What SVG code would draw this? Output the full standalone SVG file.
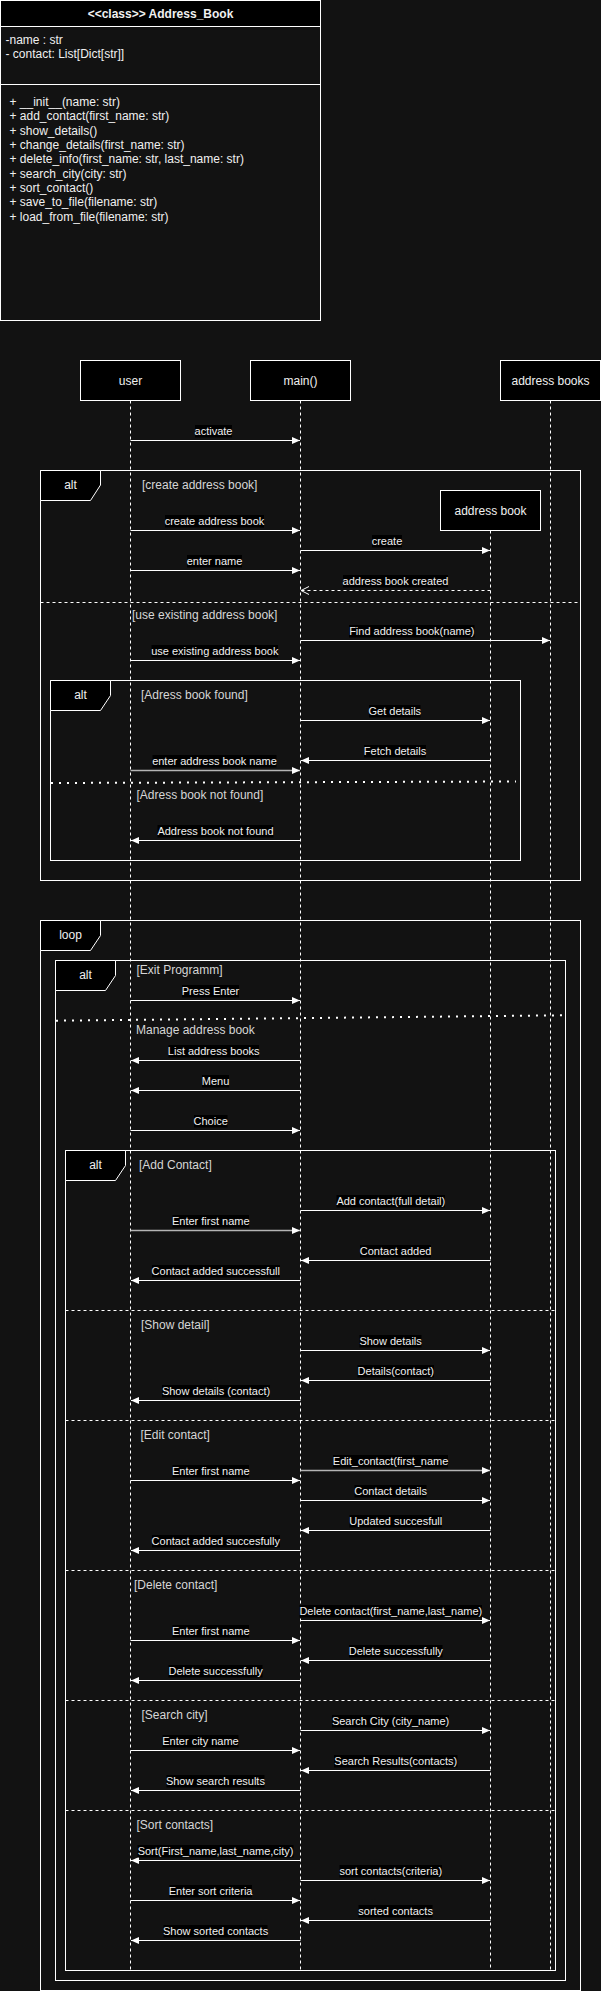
<svg xmlns="http://www.w3.org/2000/svg" width="601" height="1991" viewBox="0 0 601 1991">
<style>
text{font-family:"Liberation Sans",Arial,Helvetica,sans-serif}
.bx{fill:#000;stroke:#fff;stroke-width:1}
.fr{fill:none;stroke:#fff;stroke-width:1}
.pt{fill:#000;stroke:#fff;stroke-width:1}
.ll{stroke:#fff;stroke-width:1;stroke-dasharray:3 3;fill:none}
.dv{stroke:#fff;stroke-width:1;stroke-dasharray:3 3;fill:none}
.dt{stroke:#fff;stroke-width:2;stroke-dasharray:2 6;fill:none}
.m{stroke:#fff;stroke-width:1;fill:none;marker-end:url(#blk)}
.mg{stroke:#b4b4b4;stroke-width:1.6;fill:none;marker-end:url(#blk)}
.r{stroke:#fff;stroke-width:1;stroke-dasharray:3 3;fill:none;marker-end:url(#opn)}
.lb{fill:#000}
.ml{font-size:11px;fill:#f0f0f0;text-anchor:middle}
.cd{font-size:12px;fill:#d6d6d6}
.fl{font-size:12px;fill:#f0f0f0;text-anchor:middle}
.nm{font-size:12px;fill:#f0f0f0;text-anchor:middle}
.ct{font-size:12px;fill:#f0f0f0}
</style>
<defs>
<marker id="blk" viewBox="0 0 8 7" refX="8" refY="3.5" markerWidth="8" markerHeight="7" markerUnits="userSpaceOnUse" orient="auto"><path d="M0,0 L8,3.5 L0,7 z" fill="#fff"/></marker>
<marker id="opn" viewBox="0 0 9 9" refX="8.5" refY="4.5" markerWidth="9" markerHeight="9" markerUnits="userSpaceOnUse" orient="auto"><path d="M0.5,0.5 L8.5,4.5 L0.5,8.5" fill="none" stroke="#fff" stroke-width="1"/></marker>
</defs>
<rect x="0" y="0" width="601" height="1991" fill="#121212"/>

<g id="class-address-book">
<rect x="0.5" y="0.5" width="320" height="320" fill="#121212" stroke="#fff"/>
<rect x="0.5" y="0.5" width="320" height="26" fill="#000" stroke="#fff"/>
<text class="nm" x="160.5" y="18" font-weight="bold">&lt;&lt;class&gt;&gt; Address_Book</text>
<text class="ct" x="5.5" y="43.7">-name : str</text>
<text class="ct" x="5.5" y="58">- contact: List[Dict[str]]</text>
<line x1="0.5" y1="84.5" x2="320.5" y2="84.5" stroke="#fff"/>
<text class="ct" x="9.5" y="106">+ __init__(name: str)</text>
<text class="ct" x="9.5" y="120.3">+ add_contact(first_name: str)</text>
<text class="ct" x="9.5" y="134.7">+ show_details()</text>
<text class="ct" x="9.5" y="149">+ change_details(first_name: str)</text>
<text class="ct" x="9.5" y="163.3">+ delete_info(first_name: str, last_name: str)</text>
<text class="ct" x="9.5" y="177.7">+ search_city(city: str)</text>
<text class="ct" x="9.5" y="192">+ sort_contact()</text>
<text class="ct" x="9.5" y="206.3">+ save_to_file(filename: str)</text>
<text class="ct" x="9.5" y="220.7">+ load_from_file(filename: str)</text>
</g>

<g id="frames">
<rect class="fr" x="40.5" y="470.5" width="540" height="410"/>
<path class="pt" d="M40.5,470.5 H100.5 V485 L90.5,500.5 H40.5 Z"/>
<text class="fl" x="70.5" y="489">alt</text>
<line class="dv" x1="40.5" y1="602.5" x2="580.5" y2="602.5"/>

<rect class="fr" x="50.5" y="680.5" width="470" height="180"/>
<path class="pt" d="M50.5,680.5 H110.5 V695.5 L100.5,710.5 H50.5 Z"/>
<text class="fl" x="80.5" y="699">alt</text>
<line class="dt" x1="51" y1="783" x2="516" y2="781.5"/>

<rect class="fr" x="40.5" y="920.5" width="540" height="1070"/>
<path class="pt" d="M40.5,920.5 H100.5 V935.5 L90.5,950.5 H40.5 Z"/>
<text class="fl" x="70.5" y="939">loop</text>

<rect class="fr" x="55.5" y="960.5" width="510" height="1020"/>
<path class="pt" d="M55.5,960.5 H115.5 V975.5 L105.5,990.5 H55.5 Z"/>
<text class="fl" x="85.5" y="979">alt</text>
<line class="dt" x1="56" y1="1020.7" x2="565" y2="1015.3"/>

<rect class="fr" x="65.5" y="1150.5" width="490" height="820"/>
<path class="pt" d="M65.5,1150.5 H125.5 V1165.5 L115.5,1180.5 H65.5 Z"/>
<text class="fl" x="95.5" y="1169">alt</text>
<line class="dv" x1="65.5" y1="1310.5" x2="555.5" y2="1310.5"/>
<line class="dv" x1="65.5" y1="1420.5" x2="555.5" y2="1420.5"/>
<line class="dv" x1="65.5" y1="1570.5" x2="555.5" y2="1570.5"/>
<line class="dv" x1="65.5" y1="1700.5" x2="555.5" y2="1700.5"/>
<line class="dv" x1="65.5" y1="1810.5" x2="555.5" y2="1810.5"/>

<text class="cd" x="142" y="489">[create address book]</text>
<text class="cd" x="132" y="619">[use existing address book]</text>
<text class="cd" x="141" y="699">[Adress book found]</text>
<text class="cd" x="136.5" y="799">[Adress book not found]</text>
<text class="cd" x="136.5" y="974">[Exit Programm]</text>
<text class="cd" x="136" y="1034">Manage address book</text>
<text class="cd" x="139" y="1169">[Add Contact]</text>
<text class="cd" x="141" y="1329">[Show detail]</text>
<text class="cd" x="140.5" y="1439">[Edit contact]</text>
<text class="cd" x="134" y="1589">[Delete contact]</text>
<text class="cd" x="141.5" y="1719">[Search city]</text>
<text class="cd" x="136.5" y="1829">[Sort contacts]</text>
</g>

<g id="lifeline-user">
<line class="ll" x1="130.5" y1="400.5" x2="130.5" y2="1970"/>
<rect class="bx" x="80.5" y="360.5" width="100" height="40"/>
<text class="nm" x="130.5" y="384.5">user</text>
</g>
<g id="lifeline-main">
<line class="ll" x1="300.5" y1="400.5" x2="300.5" y2="1970"/>
<rect class="bx" x="250.5" y="360.5" width="100" height="40"/>
<text class="nm" x="300.5" y="384.5">main()</text>
</g>
<g id="lifeline-address-books">
<line class="ll" x1="550.5" y1="400.5" x2="550.5" y2="1970"/>
<rect class="bx" x="500.5" y="360.5" width="100" height="40"/>
<text class="nm" x="550.5" y="384.5">address books</text>
</g>
<g id="lifeline-address-book">
<line class="ll" x1="490.5" y1="530.5" x2="490.5" y2="1970"/>
<rect class="bx" x="440.5" y="490.5" width="100" height="40"/>
<text class="nm" x="490.5" y="514.5">address book</text>
</g>

<g id="connectors">
<line class="m" x1="130.5" y1="440.5" x2="300" y2="440.5"/>
<rect class="lb" x="195" y="425" width="37" height="12.5"/><text class="ml" x="213.5" y="435">activate</text>

<line class="m" x1="130.5" y1="530.5" x2="300" y2="530.5"/>
<rect class="lb" x="165" y="515" width="99" height="12.5"/><text class="ml" x="214.5" y="525">create address book</text>

<line class="m" x1="300.5" y1="550.5" x2="490" y2="550.5"/>
<rect class="lb" x="372" y="535" width="30" height="12.5"/><text class="ml" x="387" y="545">create</text>

<line class="m" x1="130.5" y1="570.5" x2="300" y2="570.5"/>
<rect class="lb" x="187" y="555" width="55" height="12.5"/><text class="ml" x="214.5" y="565">enter name</text>

<line class="r" x1="490.5" y1="590.5" x2="301" y2="590.5"/>
<rect class="lb" x="343" y="575" width="105" height="12.5"/><text class="ml" x="395.5" y="585">address book created</text>

<line class="m" x1="300.5" y1="640.5" x2="550" y2="640.5"/>
<rect class="lb" x="349" y="625" width="125.5" height="12.5"/><text class="ml" x="411.8" y="635">Find address book(name)</text>

<line class="m" x1="130.5" y1="660.5" x2="300" y2="660.5"/>
<rect class="lb" x="151.5" y="645" width="126.5" height="12.5"/><text class="ml" x="214.8" y="655">use existing address book</text>

<line class="m" x1="300.5" y1="720.5" x2="490" y2="720.5"/>
<rect class="lb" x="369" y="705" width="51.5" height="12.5"/><text class="ml" x="394.8" y="715">Get details</text>

<line class="m" x1="490.5" y1="760.5" x2="301" y2="760.5"/>
<rect class="lb" x="364" y="745" width="62" height="12.5"/><text class="ml" x="395" y="755">Fetch details</text>

<line class="mg" x1="130.5" y1="770.5" x2="300" y2="770.5"/>
<rect class="lb" x="152.5" y="755" width="124" height="12.5"/><text class="ml" x="214.5" y="765">enter address book name</text>

<line class="m" x1="300.5" y1="840.5" x2="131" y2="840.5"/>
<rect class="lb" x="157.5" y="825" width="116" height="12.5"/><text class="ml" x="215.5" y="835">Address book not found</text>

<line class="m" x1="130.5" y1="1000.5" x2="300" y2="1000.5"/>
<rect class="lb" x="182" y="985" width="57" height="12.5"/><text class="ml" x="210.5" y="995">Press Enter</text>

<line class="m" x1="300.5" y1="1060.5" x2="131" y2="1060.5"/>
<rect class="lb" x="168.5" y="1045" width="90.5" height="12.5"/><text class="ml" x="213.7" y="1055">List address books</text>

<line class="m" x1="300.5" y1="1090.5" x2="131" y2="1090.5"/>
<rect class="lb" x="202" y="1075" width="27" height="12.5"/><text class="ml" x="215.5" y="1085">Menu</text>

<line class="m" x1="130.5" y1="1130.5" x2="300" y2="1130.5"/>
<rect class="lb" x="194" y="1115" width="33.5" height="12.5"/><text class="ml" x="210.7" y="1125">Choice</text>

<line class="m" x1="300.5" y1="1210.5" x2="490" y2="1210.5"/>
<rect class="lb" x="336.5" y="1195" width="108.5" height="12.5"/><text class="ml" x="390.8" y="1205">Add contact(full detail)</text>

<line class="mg" x1="130.5" y1="1230.5" x2="300" y2="1230.5"/>
<rect class="lb" x="172.5" y="1215" width="76.5" height="12.5"/><text class="ml" x="210.8" y="1225">Enter first name</text>

<line class="m" x1="490.5" y1="1260.5" x2="301" y2="1260.5"/>
<rect class="lb" x="360" y="1245" width="71" height="12.5"/><text class="ml" x="395.6" y="1255">Contact added</text>

<line class="m" x1="300.5" y1="1280.5" x2="131" y2="1280.5"/>
<rect class="lb" x="152" y="1265" width="128" height="12.5"/><text class="ml" x="215.8" y="1275">Contact added successfull</text>

<line class="m" x1="300.5" y1="1350.5" x2="490" y2="1350.5"/>
<rect class="lb" x="359.5" y="1335" width="62" height="12.5"/><text class="ml" x="390.6" y="1345">Show details</text>

<line class="m" x1="490.5" y1="1380.5" x2="301" y2="1380.5"/>
<rect class="lb" x="357.5" y="1365" width="76.5" height="12.5"/><text class="ml" x="395.8" y="1375">Details(contact)</text>

<line class="m" x1="300.5" y1="1400.5" x2="131" y2="1400.5"/>
<rect class="lb" x="162" y="1385" width="108" height="12.5"/><text class="ml" x="216" y="1395">Show details (contact)</text>

<line class="mg" x1="300.5" y1="1470.5" x2="490" y2="1470.5"/>
<rect class="lb" x="333" y="1455" width="115" height="12.5"/><text class="ml" x="390.6" y="1465">Edit_contact(first_name</text>

<line class="m" x1="130.5" y1="1480.5" x2="300" y2="1480.5"/>
<rect class="lb" x="172.5" y="1465" width="76.5" height="12.5"/><text class="ml" x="210.8" y="1475">Enter first name</text>

<line class="m" x1="300.5" y1="1500.5" x2="490" y2="1500.5"/>
<rect class="lb" x="354.5" y="1485" width="72" height="12.5"/><text class="ml" x="390.6" y="1495">Contact details</text>

<line class="m" x1="490.5" y1="1530.5" x2="301" y2="1530.5"/>
<rect class="lb" x="349.5" y="1515" width="92.5" height="12.5"/><text class="ml" x="395.8" y="1525">Updated succesfull</text>

<line class="m" x1="300.5" y1="1550.5" x2="131" y2="1550.5"/>
<rect class="lb" x="152" y="1535" width="128" height="12.5"/><text class="ml" x="215.8" y="1545">Contact added succesfully</text>

<line class="m" x1="300.5" y1="1620.5" x2="490" y2="1620.5"/>
<rect class="lb" x="299.5" y="1605" width="182.5" height="12.5"/><text class="ml" x="390.8" y="1615">Delete contact(first_name,last_name)</text>

<line class="m" x1="130.5" y1="1640.5" x2="300" y2="1640.5"/>
<rect class="lb" x="172.5" y="1625" width="76.5" height="12.5"/><text class="ml" x="210.8" y="1635">Enter first name</text>

<line class="m" x1="490.5" y1="1660.5" x2="301" y2="1660.5"/>
<rect class="lb" x="349" y="1645" width="93.5" height="12.5"/><text class="ml" x="395.8" y="1655">Delete successfully</text>

<line class="m" x1="300.5" y1="1680.5" x2="131" y2="1680.5"/>
<rect class="lb" x="168.5" y="1665" width="94" height="12.5"/><text class="ml" x="215.6" y="1675">Delete successfully</text>

<line class="m" x1="300.5" y1="1730.5" x2="490" y2="1730.5"/>
<rect class="lb" x="332" y="1715" width="117" height="12.5"/><text class="ml" x="390.6" y="1725">Search City (city_name)</text>

<line class="m" x1="130.5" y1="1750.5" x2="300" y2="1750.5"/>
<rect class="lb" x="162.5" y="1735" width="76" height="12.5"/><text class="ml" x="200.5" y="1745">Enter city name</text>

<line class="m" x1="490.5" y1="1770.5" x2="301" y2="1770.5"/>
<rect class="lb" x="334" y="1755" width="123.5" height="12.5"/><text class="ml" x="395.8" y="1765">Search Results(contacts)</text>

<line class="m" x1="300.5" y1="1790.5" x2="131" y2="1790.5"/>
<rect class="lb" x="166.5" y="1775" width="98" height="12.5"/><text class="ml" x="215.4" y="1785">Show search results</text>

<line class="m" x1="300.5" y1="1860.5" x2="131" y2="1860.5"/>
<rect class="lb" x="137.5" y="1845" width="156" height="12.5"/><text class="ml" x="215.6" y="1855">Sort(First_name,last_name,city)</text>

<line class="m" x1="300.5" y1="1880.5" x2="490" y2="1880.5"/>
<rect class="lb" x="339.5" y="1865" width="102.5" height="12.5"/><text class="ml" x="390.8" y="1875">sort contacts(criteria)</text>

<line class="m" x1="130.5" y1="1900.5" x2="300" y2="1900.5"/>
<rect class="lb" x="169.5" y="1885" width="82.5" height="12.5"/><text class="ml" x="210.6" y="1895">Enter sort criteria</text>

<line class="m" x1="490.5" y1="1920.5" x2="301" y2="1920.5"/>
<rect class="lb" x="358.5" y="1905" width="74" height="12.5"/><text class="ml" x="395.6" y="1915">sorted contacts</text>

<line class="m" x1="300.5" y1="1940.5" x2="131" y2="1940.5"/>
<rect class="lb" x="163.5" y="1925" width="104" height="12.5"/><text class="ml" x="215.6" y="1935">Show sorted contacts</text>
</g>
</svg>
